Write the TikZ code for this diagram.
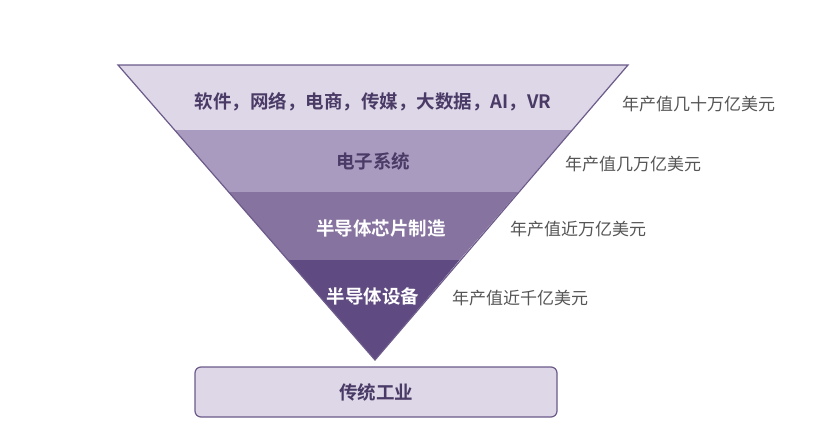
\documentclass[tikz,border=0pt]{standalone}
\usepackage{fontspec}
\setmainfont{Noto Sans CJK SC}
\newfontfamily\cjkb{Noto Sans CJK SC Bold}
\definecolor{bA}{HTML}{DDD7E7}
\definecolor{bB}{HTML}{A99BC0}
\definecolor{bC}{HTML}{86739F}
\definecolor{bD}{HTML}{5F4B81}
\definecolor{edge}{HTML}{6B5A8A}
\definecolor{dark}{HTML}{4A3A66}
\definecolor{lab}{HTML}{555555}
\begin{document}
\begin{tikzpicture}[x=1pt,y=-1pt,
  band/.style={draw=none},
  intext/.style={font=\cjkb\fontsize{18.5}{22}\selectfont},
  side/.style={font=\fontsize{17}{20}\selectfont,text=lab,anchor=west,inner sep=0pt}]
\useasboundingbox (0,0) rectangle (816,442);
\fill[bA] (118,65) -- (628,65) -- (571.8,130) -- (174.6,130) -- cycle;
\fill[bB] (174.6,130) -- (571.8,130) -- (518.3,192) -- (228.6,192) -- cycle;
\fill[bC] (228.6,192) -- (518.3,192) -- (459.5,260) -- (287.9,260) -- cycle;
\fill[bD] (287.9,260) -- (459.5,260) -- (375,360) -- cycle;
\draw[edge,line width=1.2pt,line join=miter] (118,65) -- (628,65) -- (375,360) -- cycle;
\node[intext,text=dark] (t1) at (373,102) {软件，网络，电商，传媒，大数据，AI，VR};
\node[intext,text=dark] (t2) at (373,161) {电子系统};
\node[intext,text=white] (t3) at (381,229) {半导体芯片制造};
\node[intext,text=white] (t4) at (373,296) {半导体设备};
\node[draw=edge,line width=1.2pt,fill=bA,rounded corners=6pt,minimum width=362pt,minimum height=50pt,intext,text=dark] (base) at (376,392) {传统工业};
\node[side] (s1) at (622,104) {年产值几十万亿美元};
\node[side] (s2) at (565,164) {年产值几万亿美元};
\node[side] (s3) at (510,229) {年产值近万亿美元};
\node[side] (s4) at (452,298) {年产值近千亿美元};
\end{tikzpicture}
\end{document}
